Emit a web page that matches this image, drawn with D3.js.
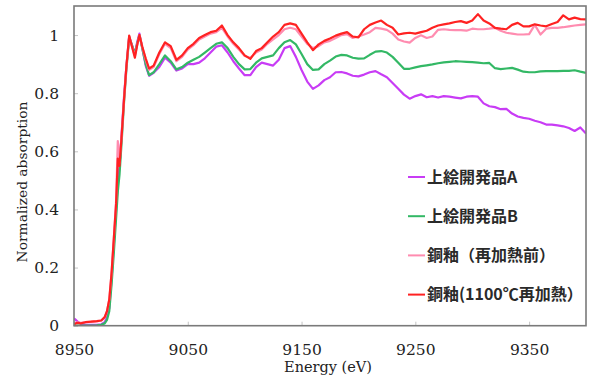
<!DOCTYPE html>
<html>
<head>
<meta charset="utf-8">
<script src="https://cdn.jsdelivr.net/npm/d3@7"></script>
<style>
  html, body { margin: 0; padding: 0; background: #fff; }
  svg { display: block; }
</style>
</head>
<body>
<div id="chart"></div>
<script>
// energy grid (eV) shared by all four spectra
const energy = [
  8950, 8953, 8956, 8960, 8965, 8970, 8974, 8977, 8979, 8981,
  8983, 8985, 8987, 8988.5, 8990, 8992, 8994, 8996, 8998.5, 9001,
  9003.5, 9005.5, 9007.5, 9010, 9013, 9016, 9020,
  9025, 9030, 9035, 9040, 9045, 9050, 9055, 9060, 9065, 9070,
  9075, 9080, 9085, 9090, 9095, 9100, 9105, 9110, 9115, 9120,
  9125, 9130, 9135, 9140, 9145, 9150, 9155, 9160, 9165, 9170,
  9175, 9180, 9185, 9190, 9195, 9200, 9205, 9210, 9215, 9220,
  9225, 9230, 9235, 9240, 9245, 9250, 9255, 9260, 9265, 9270,
  9275, 9280, 9285, 9290, 9295, 9300, 9305, 9310, 9315, 9320,
  9325, 9330, 9335, 9340, 9345, 9350, 9355, 9360, 9365, 9370,
  9375, 9380, 9385, 9390, 9395, 9400
];

const sampleA = [
  0.025, 0.015, 0.006, 0.004, 0.003, 0.003, 0.005, 0.012, 0.03, 0.06,
  0.16, 0.28, 0.40, 0.49, 0.55, 0.67, 0.79, 0.89, 0.995, 0.965,
  0.935, 0.975, 1.005, 0.955, 0.895, 0.86, 0.87,
  0.89, 0.922, 0.905, 0.878, 0.885, 0.9, 0.9, 0.905, 0.92, 0.94,
  0.96, 0.965, 0.94, 0.91, 0.885, 0.862, 0.862, 0.89, 0.905, 0.9,
  0.895, 0.915, 0.955, 0.962, 0.925, 0.88, 0.84, 0.815, 0.827, 0.845,
  0.855, 0.872, 0.873, 0.868, 0.86, 0.858, 0.864, 0.872, 0.876, 0.865,
  0.855, 0.835, 0.815, 0.795, 0.781, 0.79, 0.796, 0.786, 0.79, 0.785,
  0.79, 0.788, 0.785, 0.782, 0.788, 0.79, 0.788, 0.765, 0.755, 0.752,
  0.745, 0.746, 0.73, 0.72, 0.715, 0.712, 0.705, 0.7, 0.692, 0.692,
  0.689, 0.686, 0.68, 0.67, 0.682, 0.661
];

const sampleB = [
  0.0, 0.0, 0.0, 0.0, 0.0, 0.001, 0.003, 0.008, 0.02, 0.05,
  0.14, 0.25, 0.37, 0.46, 0.52, 0.64, 0.77, 0.88, 0.99, 0.965,
  0.935, 0.97, 1.0, 0.955, 0.9, 0.862, 0.872,
  0.9, 0.93, 0.91, 0.882, 0.89, 0.905, 0.915, 0.925, 0.94, 0.955,
  0.97, 0.975, 0.955, 0.925, 0.9, 0.882, 0.883, 0.905, 0.92, 0.925,
  0.93, 0.955, 0.975, 0.983, 0.968, 0.935, 0.9, 0.88, 0.882, 0.9,
  0.912, 0.926, 0.932, 0.93, 0.922, 0.919, 0.92, 0.932, 0.943, 0.945,
  0.94, 0.925, 0.905, 0.884, 0.884, 0.889, 0.893, 0.896, 0.899, 0.903,
  0.906, 0.908, 0.91, 0.909, 0.908, 0.907, 0.905, 0.903, 0.904, 0.886,
  0.883, 0.885, 0.887, 0.881, 0.874, 0.872, 0.872, 0.875, 0.876, 0.876,
  0.876, 0.877, 0.877, 0.879, 0.874, 0.87
];

const glazeBefore = [
  0.008, 0.012, 0.01, 0.012, 0.013, 0.015, 0.018, 0.028, 0.05, 0.09,
  0.18, 0.3, 0.43, 0.635, 0.56, 0.66, 0.78, 0.89, 0.995, 0.96,
  0.928, 0.965, 1.0, 0.96, 0.915, 0.88, 0.89,
  0.935, 0.97, 0.955, 0.91, 0.925, 0.95, 0.965, 0.985, 0.995, 1.005,
  1.01, 1.025, 0.995, 0.97, 0.95, 0.928, 0.922, 0.94, 0.95, 0.97,
  0.985, 1.0, 1.02, 1.025, 1.02, 0.995, 0.97, 0.955, 0.962, 0.975,
  0.98, 0.99, 1.0, 1.003, 0.99, 0.995, 1.002, 1.01, 1.025, 1.022,
  1.018, 1.005, 0.985, 0.978, 0.974, 0.99, 0.999, 0.99, 0.995, 1.018,
  1.02, 1.018, 1.017, 1.017, 1.015, 1.022, 1.02, 1.02, 1.022, 1.025,
  1.015, 1.008, 1.005, 1.002, 1.002, 1.003, 1.035, 1.002, 1.022, 1.025,
  1.025, 1.027, 1.03, 1.033, 1.035, 1.037
];

const glaze1100 = [
  0.005, 0.01, 0.008, 0.012, 0.014, 0.016, 0.018, 0.03, 0.05, 0.09,
  0.18, 0.3, 0.42, 0.575, 0.55, 0.66, 0.78, 0.89, 0.998, 0.96,
  0.922, 0.965, 1.0, 0.96, 0.92, 0.885, 0.895,
  0.94, 0.975, 0.962, 0.915, 0.93, 0.955, 0.97, 0.99, 1.0, 1.01,
  1.015, 1.033, 1.0, 0.975, 0.955, 0.93, 0.918, 0.945, 0.955, 0.975,
  0.995, 1.01, 1.035, 1.04, 1.035, 1.005, 0.975, 0.948, 0.968, 0.98,
  0.988, 0.998, 1.005, 1.01, 0.995, 0.992, 1.02, 1.035, 1.043, 1.05,
  1.035, 1.025, 1.002, 1.006, 1.008, 1.005, 1.01, 1.015, 1.025, 1.033,
  1.037, 1.04, 1.045, 1.048, 1.042, 1.05, 1.072, 1.05, 1.04, 1.025,
  1.022, 1.02, 1.035, 1.042, 1.03, 1.03, 1.037, 1.033, 1.03, 1.038,
  1.045, 1.068, 1.054, 1.06, 1.055, 1.054
];

const seriesNames = ['上絵開発品A', '上絵開発品B', '銅釉（再加熱前）', '銅釉(1100℃再加熱）'];
const seriesColors = ['#c83cf5', '#33b865', '#ff8cb0', '#ff2222'];
const seriesValues = [sampleA, sampleB, glazeBefore, glaze1100];

const xTicks = [8950, 9050, 9150, 9250, 9350];
const yTicks = [0, 0.2, 0.4, 0.6, 0.8, 1];
const yTickLabels = ['0', '0.2', '0.4', '0.6', '0.8', '1'];

const width = 589;
const height = 385;
const margin = { top: 6, right: 3, bottom: 59.3, left: 74 };
const innerW = width - margin.left - margin.right;
const innerH = height - margin.top - margin.bottom;

const svg = d3.select('#chart')
  .append('svg')
  .attr('width', width)
  .attr('height', height);

const g = svg.append('g')
  .attr('transform', 'translate(' + margin.left + ',' + margin.top + ')');

const xScale = d3.scaleLinear().domain([8950, 9400]).range([0, innerW]);
const yScale = d3.scaleLinear().domain([0, 1.1]).range([innerH, 0]);

// axes: small inward ticks, serif labels
const xAxis = g.append('g')
  .attr('transform', 'translate(0,' + innerH + ')')
  .call(d3.axisBottom(xScale).tickValues(xTicks).tickSizeInner(-4).tickSizeOuter(0).tickPadding(18).tickFormat(d3.format('d')));

const yAxis = g.append('g')
  .call(d3.axisLeft(yScale).tickValues(yTicks).tickSizeInner(-4).tickSizeOuter(0).tickPadding(15)
    .tickFormat((d, i) => yTickLabels[i]));

[xAxis, yAxis].forEach(a => {
  a.select('.domain').remove();
  a.selectAll('.tick line').attr('stroke', '#c4c4c4');
  a.selectAll('.tick text')
    .attr('fill', '#222')
    .style('font-family', '"DejaVu Serif", serif')
    .style('font-size', '15.5px');
});

g.append('clipPath')
  .attr('id', 'plot-clip')
  .append('rect')
  .attr('width', innerW)
  .attr('height', innerH);

const line = d3.line()
  .x((d, i) => xScale(energy[i]))
  .y(d => yScale(d));

const lines = g.append('g').attr('clip-path', 'url(#plot-clip)');
seriesValues.forEach((vals, k) => {
  lines.append('path')
    .datum(vals)
    .attr('d', line)
    .attr('fill', 'none')
    .attr('stroke', seriesColors[k])
    .attr('stroke-width', 2.2)
    .attr('stroke-linejoin', 'round');
});

// plot frame
g.append('rect')
  .attr('width', innerW)
  .attr('height', innerH)
  .attr('fill', 'none')
  .attr('stroke', '#7a7a7a')
  .attr('stroke-width', 1.6);

// legend
const legend = svg.append('g').attr('transform', 'translate(408,177)');
seriesNames.forEach((name, k) => {
  const row = legend.append('g').attr('transform', 'translate(0,' + (k * 39.2) + ')');
  row.append('line')
    .attr('x1', 0).attr('x2', 17)
    .attr('stroke', seriesColors[k])
    .attr('stroke-width', 2);
  row.append('text')
    .attr('x', 19)
    .attr('dy', '0.36em')
    .attr('fill', '#2a2a2a')
    .style('font-family', '"Noto Sans CJK JP", sans-serif')
    .style('font-weight', 'bold')
    .style('font-size', '16px')
    .text(name);
});

// axis titles
svg.append('text')
  .attr('x', margin.left + innerW / 2 - 2)
  .attr('y', 372)
  .attr('text-anchor', 'middle')
  .attr('fill', '#222')
  .style('font-family', '"DejaVu Serif", serif')
  .style('font-size', '14.5px')
  .text('Energy (eV)');

svg.append('text')
  .attr('transform', 'translate(27,182) rotate(-90)')
  .attr('text-anchor', 'middle')
  .attr('fill', '#222')
  .style('font-family', '"DejaVu Serif", serif')
  .style('font-size', '13.8px')
  .text('Normalized absorption');
</script>
</body>
</html>
